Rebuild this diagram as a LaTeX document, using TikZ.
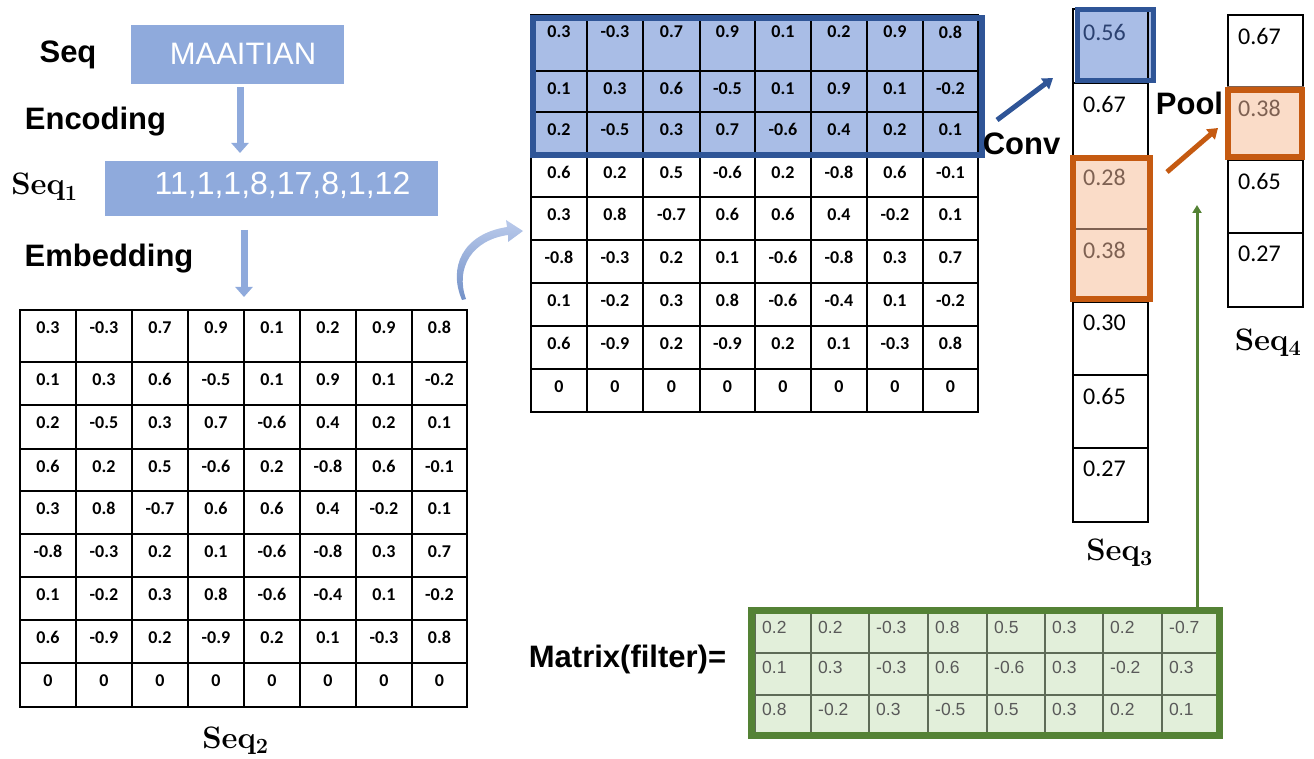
\documentclass[tikz,border=0pt]{standalone}
\usepackage{fontspec}
\newfontfamily\lib{Liberation Sans}
\newfontfamily\carl{Carlito}
\usetikzlibrary{arrows.meta}
\definecolor{boxblue}{HTML}{8FAADC}
\definecolor{hlblue}{HTML}{A9BDE6}
\definecolor{darkblue}{HTML}{2F5597}
\definecolor{navytxt}{HTML}{2B4170}
\definecolor{orng}{HTML}{C55A11}
\definecolor{peach}{HTML}{FADCC8}
\definecolor{browntxt}{HTML}{7E6152}
\definecolor{grn}{HTML}{548235}
\definecolor{lgrn}{HTML}{E2EFDA}
\definecolor{gridg}{HTML}{5E6B57}
\definecolor{txtg}{HTML}{595959}
\tikzset{
  lbl/.style={font=\lib\bfseries\fontsize{31}{31}\selectfont, inner sep=0, anchor=base},
  seqlbl/.style={font=\bfseries\fontsize{31}{31}\selectfont, inner sep=0, anchor=base},
  bluebox/.style={fill=boxblue, draw=none, anchor=north west, inner sep=0, outer sep=0},
  boxtxt/.style={text=white, inner sep=0, anchor=base},
  flowarrow/.style={draw=boxblue, line width=7pt, -{Triangle[width=17pt,length=10pt]}},
  mcell/.style={draw=black, line width=2pt, anchor=north west, inner sep=0, outer sep=0},
  mtxt/.style={anchor=north, yshift=-11pt, inner sep=0, font=\carl\bfseries\fontsize{18}{18}\selectfont},
  fcell/.style={draw=gridg, line width=2pt, anchor=north west, inner sep=0, outer sep=0},
  ftxt/.style={anchor=north west, xshift=7pt, yshift=-8pt, inner sep=0, text=txtg, font=\lib\fontsize{17.5}{17.5}\selectfont},
  s3cell/.style={draw=black, line width=2pt, anchor=north west, inner sep=0, outer sep=0, minimum width=75pt},
  s3txt/.style={anchor=north west, xshift=10pt, yshift=-13pt, inner sep=0, font=\carl\fontsize{24}{24}\selectfont},
  convarrow/.style={draw=darkblue, line width=5pt, -{Triangle[width=13pt,length=10pt]}},
  poolarrow/.style={draw=orng, line width=5pt, -{Triangle[width=13pt,length=10pt]}},
  filtarrow/.style={draw=grn, line width=3pt, -{Triangle[width=9pt,length=8pt]}},
}
% #1 prefix, #2 column edges, #3 row edges, #4 data macro, #5 cell style, #6 text style, #7 text position
\newcommand\mymatrix[7]{%
  \foreach \row [count=\r from 0] in #4 {
    \foreach \v [count=\c from 0] in \row {
      \pgfmathsetmacro\xa{{#2}[\c]}
      \pgfmathsetmacro\xb{{#2}[\c+1]}
      \pgfmathsetmacro\ya{{#3}[\r]}
      \pgfmathsetmacro\yb{{#3}[\r+1]}
      \pgfmathsetmacro\w{\xb-\xa}
      \pgfmathsetmacro\h{\yb-\ya}
      \node[#5, minimum width=\w pt, minimum height=\h pt, label={[#6]#7:\v}] (#1-\r-\c) at (\xa,\ya) {};
    }
  }
}
\def\embdata{{0.3,-0.3,0.7,0.9,0.1,0.2,0.9,0.8},
{0.1,0.3,0.6,-0.5,0.1,0.9,0.1,-0.2},
{0.2,-0.5,0.3,0.7,-0.6,0.4,0.2,0.1},
{0.6,0.2,0.5,-0.6,0.2,-0.8,0.6,-0.1},
{0.3,0.8,-0.7,0.6,0.6,0.4,-0.2,0.1},
{-0.8,-0.3,0.2,0.1,-0.6,-0.8,0.3,0.7},
{0.1,-0.2,0.3,0.8,-0.6,-0.4,0.1,-0.2},
{0.6,-0.9,0.2,-0.9,0.2,0.1,-0.3,0.8},
{0,0,0,0,0,0,0,0}}
\def\filtdata{{0.2,0.2,-0.3,0.8,0.5,0.3,0.2,-0.7},
{0.1,0.3,-0.3,0.6,-0.6,0.3,-0.2,0.3},
{0.8,-0.2,0.3,-0.5,0.5,0.3,0.2,0.1}}
\begin{document}
\begin{tikzpicture}[x=1pt,y=-1pt]
\useasboundingbox (0,0) rectangle (1314,759);

% ---------- background fills ----------
\fill[hlblue] (531,15) rectangle (980,155);
\fill[lgrn] (751,610) rectangle (1220,736);
\fill[hlblue] (1075,9) rectangle (1155,83);
\fill[peach] (1071,156) rectangle (1152,301);
\fill[peach] (1226,88) rectangle (1304,159);

% ---------- top-left flow ----------
\node[bluebox, minimum width=213pt, minimum height=59pt] (seqbox) at (131,25) {};
\node[boxtxt, font=\lib\fontsize{31}{31}\selectfont] (seqtxt) at (243,65) {MAAITIAN};
\node[bluebox, minimum width=333pt, minimum height=55pt] (seq1box) at (105,161) {};
\node[boxtxt, font=\lib\fontsize{32}{32}\selectfont] (seq1txt) at (282.5,195) {11,1,1,8,17,8,1,12};

\node[lbl] (seqlab) at (68,63) {Seq};
\node[lbl] (enclab) at (95.5,130) {Encoding};
\node[seqlbl] (seq1lab) at (44.5,195) {Seq\textsubscript{1}};
\node[lbl] (emblab) at (109,267) {Embedding};

% ---------- matrices ----------
\mymatrix{L}{20,76,132,188,244,300,356,412,467}{310,362,405,449,491,534,577,620,663,707}{\embdata}{mcell}{mtxt}{north}
\mymatrix{T}{531,587,643,700,755,811,867,923,978}{15,71,112,155,197,240,283,326,369,412}{\embdata}{mcell}{mtxt}{north}
\mymatrix{F}{755,811,869,928,987,1045,1103,1162,1217}{613,653,695,733}{\filtdata}{fcell}{ftxt}{north west}

\node[seqlbl] (seq2lab) at (235.5,748) {Seq\textsubscript{2}};

% ---------- Seq3 column ----------
\node[s3cell, minimum height=74pt, label={[s3txt, yshift=-2pt, text=navytxt]north west:0.56}] (S3-1) at (1073,9) {};
\node[s3cell, minimum height=73pt, label={[s3txt]north west:0.67}] (S3-2) at (1073,83) {};
\node[s3cell, draw=browntxt, minimum height=73pt, label={[s3txt, text=browntxt]north west:0.28}] (S3-3) at (1073,156) {};
\node[s3cell, draw=browntxt, minimum height=73pt, label={[s3txt, text=browntxt]north west:0.38}] (S3-4) at (1073,229) {};
\node[s3cell, minimum height=73pt, label={[s3txt]north west:0.30}] (S3-5) at (1073,302) {};
\node[s3cell, minimum height=73pt, label={[s3txt]north west:0.65}] (S3-6) at (1073,375) {};
\node[s3cell, minimum height=74pt, label={[s3txt]north west:0.27}] (S3-7) at (1073,448) {};
\node[seqlbl] (seq3lab) at (1119.5,560) {Seq\textsubscript{3}};

% ---------- Seq4 column ----------
\node[s3cell, minimum height=72pt, label={[s3txt]north west:0.67}] (S4-1) at (1228,15) {};
\node[s3cell, draw=browntxt, minimum height=73pt, label={[s3txt, text=browntxt]north west:0.38}] (S4-2) at (1228,87) {};
\node[s3cell, minimum height=73pt, label={[s3txt]north west:0.65}] (S4-3) at (1228,160) {};
\node[s3cell, minimum height=74pt, label={[s3txt]north west:0.27}] (S4-4) at (1228,233) {};
\node[seqlbl] (seq4lab) at (1268,350) {Seq\textsubscript{4}};

% ---------- thick highlight borders ----------
\draw[darkblue, line width=6pt] (533,18) rectangle (982,155);
\draw[darkblue, line width=5pt] (1077.5,9.5) rectangle (1153.5,80.5);
\draw[orng, line width=6pt] (1073,158) rectangle (1150,299);
\draw[orng, line width=6pt] (1228,90) rectangle (1302,157);
\draw[grn, line width=7pt] (751.5,610.5) rectangle (1219.5,735.5);

% ---------- labels ----------
\node[lbl] (convlab) at (1021.5,155) {Conv};
\node[lbl] (poollab) at (1189.5,115) {Pool};
\node[lbl] (filtlab) at (627.5,667) {Matrix(filter)=};

% ---------- connectors ----------
\draw[flowarrow, shorten <=3pt, shorten >=8pt] ([xshift=2.5pt]seqbox.south) -- ([xshift=2.5pt]seqbox.south |- seq1box.north);
\draw[flowarrow, shorten <=14pt, shorten >=13pt] (seq1box.south -| L-0-3.north east) -- (L-0-3.north east);

\coordinate (convstart) at (997,120);
\coordinate (convend) at (1053,78);
\draw[convarrow] (convstart) -- (convend);
\coordinate (poolstart) at (1167,172);
\coordinate (poolend) at (1218,128);
\draw[poolarrow] (poolstart) -- (poolend);
\coordinate (filtend) at (1197,205);
\draw[filtarrow] (filtend |- F-0-7.north) ++(0,-6) -- (filtend);

% curved arrow from Seq2 to the shifted matrix
\shade[top color=hlblue!80!white, bottom color=boxblue!70!darkblue]
  (462,300) .. controls (448,268) and (462,234) .. (507,227)
  -- (506,220) -- (523,231) -- (508,242) -- (508,235)
  .. controls (472,240) and (455,268) .. (466,299) -- cycle;
\end{tikzpicture}
\end{document}
